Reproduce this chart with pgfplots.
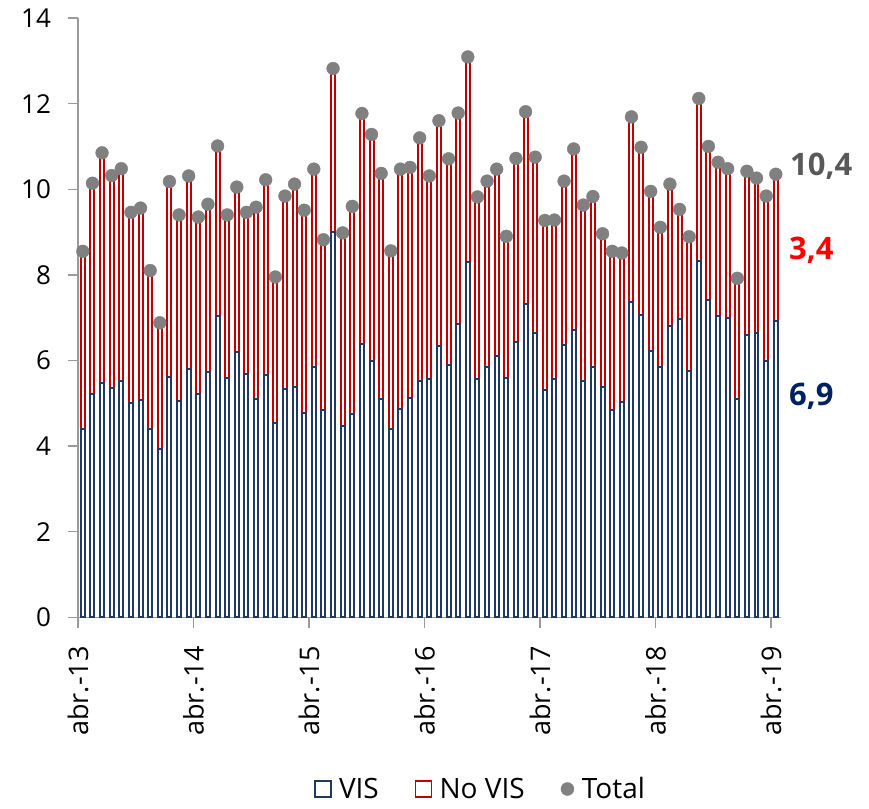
\documentclass[border=0pt]{standalone}
\usepackage{fontspec}
\setmainfont{Open Sans}
\usepackage{pgfplots}
\usepackage{pgfplotstable}
\pgfplotsset{compat=1.18}
\definecolor{visblue}{HTML}{1F3864}
\definecolor{novisred}{HTML}{C00000}
\definecolor{totgray}{HTML}{808080}
\definecolor{labgray}{HTML}{595959}
\definecolor{labred}{HTML}{FF0000}
\definecolor{labblue}{HTML}{002060}
\definecolor{axisgray}{HTML}{9A9A9A}
\pgfplotstableread{
x vis novis total
0.5 4.41 4.14 8.55
1.5 5.21 4.93 10.14
2.5 5.47 5.38 10.85
3.5 5.35 4.97 10.32
4.5 5.53 4.95 10.48
5.5 5.01 4.45 9.46
6.5 5.07 4.49 9.56
7.5 4.40 3.70 8.10
8.5 3.94 2.94 6.88
9.5 5.62 4.56 10.18
10.5 5.06 4.34 9.40
11.5 5.81 4.50 10.31
12.5 5.21 4.14 9.35
13.5 5.73 3.92 9.65
14.5 7.05 3.96 11.01
15.5 5.60 3.80 9.40
16.5 6.19 3.86 10.05
17.5 5.69 3.77 9.46
18.5 5.10 4.48 9.58
19.5 5.67 4.55 10.22
20.5 4.53 3.42 7.95
21.5 5.33 4.51 9.84
22.5 5.39 4.73 10.12
23.5 4.78 4.73 9.51
24.5 5.84 4.63 10.47
25.5 4.84 3.98 8.82
26.5 9.00 3.82 12.82
27.5 4.47 4.51 8.98
28.5 4.74 4.86 9.60
29.5 6.39 5.38 11.77
30.5 5.98 5.30 11.28
31.5 5.09 5.28 10.37
32.5 4.39 4.17 8.56
33.5 4.87 5.60 10.47
34.5 5.12 5.39 10.51
35.5 5.53 5.67 11.20
36.5 5.56 4.75 10.31
37.5 6.34 5.26 11.60
38.5 5.89 4.82 10.71
39.5 6.86 4.92 11.78
40.5 8.30 4.79 13.09
41.5 5.56 4.26 9.82
42.5 5.84 4.35 10.19
43.5 6.10 4.37 10.47
44.5 5.60 3.30 8.90
45.5 6.42 4.30 10.72
46.5 7.33 4.48 11.81
47.5 6.63 4.12 10.75
48.5 5.32 3.95 9.27
49.5 5.57 3.71 9.28
50.5 6.36 3.83 10.19
51.5 6.70 4.24 10.94
52.5 5.53 4.10 9.63
53.5 5.85 3.98 9.83
54.5 5.39 3.57 8.96
55.5 4.84 3.71 8.55
56.5 5.03 3.48 8.51
57.5 7.37 4.32 11.69
58.5 7.07 3.91 10.98
59.5 6.23 3.72 9.95
60.5 5.84 3.27 9.11
61.5 6.81 3.31 10.12
62.5 6.98 2.55 9.53
63.5 5.76 3.13 8.89
64.5 8.33 3.79 12.12
65.5 7.41 3.59 11.00
66.5 7.04 3.59 10.63
67.5 7.00 3.48 10.48
68.5 5.10 2.82 7.92
69.5 6.59 3.83 10.42
70.5 6.65 3.61 10.26
71.5 5.98 3.86 9.84
72.5 6.92 3.43 10.35
}\datatable
\begin{document}
\begin{tikzpicture}[x=1pt,y=1pt]
\path[use as bounding box] (0,0) rectangle (869,808);
\begin{axis}[
  at={(78pt,190.7pt)}, anchor=south west,
  scale only axis, width=702.6pt, height=599.3pt,
  xmin=0, xmax=73, ymin=0, ymax=14,
  axis x line*=bottom, axis y line*=left,
  axis line style={axisgray, line width=1.4pt, -},
  tick style={axisgray, line width=1.4pt},
  tick align=outside, major tick length=10.5pt,
  xtick={0,12,...,72},
  xticklabels={abr.-13,abr.-14,abr.-15,abr.-16,abr.-17,abr.-18,abr.-19},
  ytick={0,2,...,14},
  /pgf/number format/assume math mode=true,
  yticklabel style={font=\fontsize{26}{26}\selectfont, text=black},
  yticklabel shift=13pt,
  xticklabel style={font=\fontsize{27}{27}\selectfont, text=black, rotate=90, anchor=east},
  xticklabel shift=15pt,
  ybar stacked, bar width=3.9pt,
  clip=false,
]
\addplot[draw=visblue, fill=white, line width=2pt] table[x=x, y=vis] {\datatable};
\addplot[draw=novisred, fill=white, line width=2pt] table[x=x, y=novis] {\datatable};
\node[anchor=west, inner sep=0pt, text=labgray, font=\bfseries\fontsize{31}{31}\selectfont] at (axis cs:73.97,10.54) {10,4};
\node[anchor=west, inner sep=0pt, text=labred, font=\bfseries\fontsize{31}{31}\selectfont] at (axis cs:73.87,8.58) {3,4};
\node[anchor=west, inner sep=0pt, text=labblue, font=\bfseries\fontsize{31}{31}\selectfont] at (axis cs:73.87,5.17) {6,9};
\end{axis}
\begin{axis}[
  at={(78pt,190.7pt)}, anchor=south west,
  scale only axis, width=702.6pt, height=599.3pt,
  xmin=0, xmax=73, ymin=0, ymax=14,
  hide axis, clip=false,
  legend columns=3,
  legend style={draw=none, fill=none, at={(axis description cs:0.573,-0.2865)}, anchor=center,
    font=\fontsize{28}{28}\selectfont, inner sep=0pt, outer sep=0pt,
    /tikz/every even column/.append style={column sep=34pt}},
]
\addlegendimage{legend image code/.code={\draw[visblue, fill=white, line width=1.5pt] (0pt,-8pt) rectangle (16pt,8pt); \path[draw=none, fill=none] (0pt,0pt) -- (22pt,0pt);}}
\addlegendentry{VIS}
\addlegendimage{legend image code/.code={\draw[novisred, fill=white, line width=1.5pt] (0pt,-8pt) rectangle (16pt,8pt); \path[draw=none, fill=none] (0pt,0pt) -- (22pt,0pt);}}
\addlegendentry{No VIS}
\addplot[only marks, mark=*, mark size=6.4pt, color=totgray, mark options={draw=totgray, fill=totgray},
  legend image code/.code={\fill[totgray] (6.5pt,0pt) circle (6.5pt); \path[draw=none, fill=none] (0pt,0pt) -- (19pt,0pt);}] table[x=x, y=total] {\datatable};
\addlegendentry{Total}
\end{axis}
\end{tikzpicture}
\end{document}
